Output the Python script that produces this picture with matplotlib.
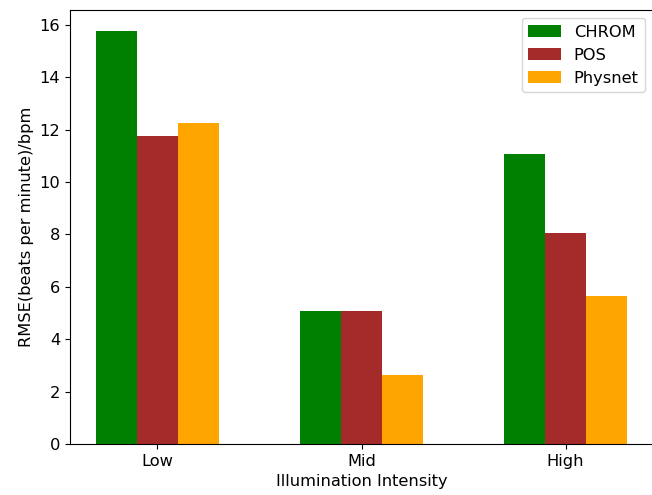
import numpy as np
import matplotlib.pyplot as plt

categories = ["Low", "Mid", "High"]
chrom = [15.78, 5.08, 11.07]
pos = [11.76, 5.08, 8.06]
physnet = [12.26, 2.63, 5.65]

plt.rcParams['font.size'] = 11.7

x = np.arange(len(categories))
width = 0.2

fig = plt.figure(figsize=(6.52, 4.95), dpi=100)
ax = fig.add_axes([0.107, 0.103, 0.895, 0.877])
ax.bar(x - width, chrom, width, color='green', label='CHROM')
ax.bar(x, pos, width, color='brown', label='POS')
ax.bar(x + width, physnet, width, color='orange', label='Physnet')

ax.set_xticks(x)
ax.set_xticklabels(categories)
ax.set_xlabel("Illumination Intensity")
ax.set_ylabel("RMSE(beats per minute)/bpm")
ax.legend(loc='upper right')

fig.savefig("out.png", dpi=100)
